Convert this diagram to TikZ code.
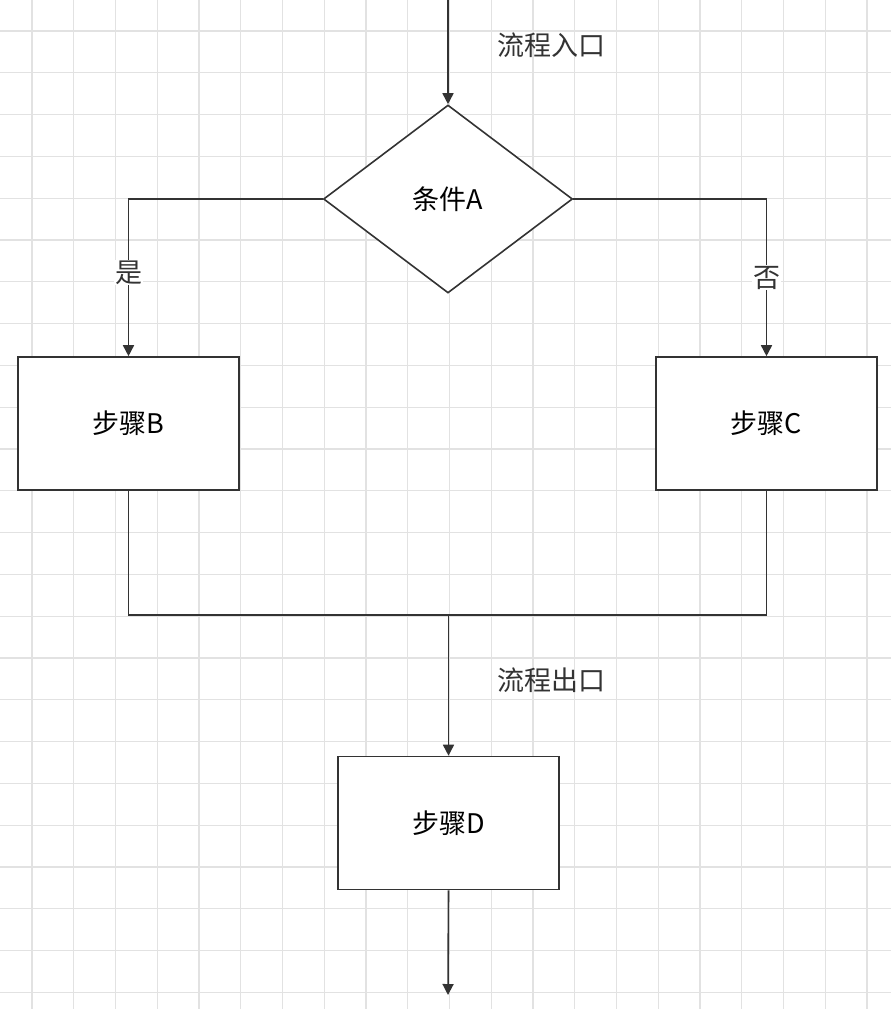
\documentclass[tikz,border=0pt]{standalone}
\usepackage{fontspec}
\setmainfont{Noto Sans CJK SC}
\usetikzlibrary{arrows.meta,shapes.geometric}
\definecolor{gridc}{HTML}{E2E2E2}
\definecolor{linec}{HTML}{333333}
\tikzset{
  box/.style={draw=linec, line width=1.6pt, fill=white, minimum width=221pt, minimum height=133pt, inner sep=0pt, font=\fontsize{27}{32}\selectfont},
  dec/.style={draw=linec, line width=1.6pt, fill=white, diamond, minimum width=249pt, minimum height=188pt, inner sep=0pt, font=\fontsize{27}{32}\selectfont},
  conn/.style={draw=linec, line width=1.6pt},
  arr/.style={conn, -{Triangle[length=11pt,width=11pt]}},
  lbl/.style={font=\fontsize{27}{32}\selectfont, text=linec, fill=white, inner sep=1pt},
  plain/.style={font=\fontsize{27}{32}\selectfont, text=linec, inner sep=0pt}
}
\begin{document}
\begin{tikzpicture}[x=1pt,y=-1pt]
\useasboundingbox (0,0) rectangle (891,1009);
\fill[white] (0,0) rectangle (891,1009);
% grid
\foreach \i in {0,...,21} {
  \draw[gridc, line width=1.3pt] ({32+41.75*\i},0) -- ({32+41.75*\i},1009);
}
\foreach \j in {0,...,24} {
  \draw[gridc, line width=1.3pt] (0,{31+41.8*\j}) -- (891,{31+41.8*\j});
}
% nodes
\node[dec] (A) at (448,199) {条件A};
\node[box] (B) at (128.5,423.5) {步骤B};
\node[box] (C) at (766.5,423.5) {步骤C};
\node[box] (D) at (448.5,823) {步骤D};
\coordinate (in) at (448,0);
\coordinate (out) at (448,995);
\coordinate (mL) at (128.5,615);
\coordinate (mR) at (766.5,615);
\coordinate (mM) at (448.5,615);
% connectors
\draw[arr] (in) -- (A.north);
\draw[arr] (A.west) -| (B.north) node[lbl, pos=0.734] {是};
\draw[arr] (A.east) -| (C.north) node[lbl, pos=0.75] {否};
\draw[conn] (B.south) -- (mL) -- (mR) -- (C.south);
\draw[arr] (mM) -- (D.north);
\draw[arr] (D.south) -- (out);
% labels
\node[plain, anchor=west] (entry) at (497,45) {流程入口};
\node[plain, anchor=west] (exit) at (497,680) {流程出口};
\end{tikzpicture}
\end{document}
